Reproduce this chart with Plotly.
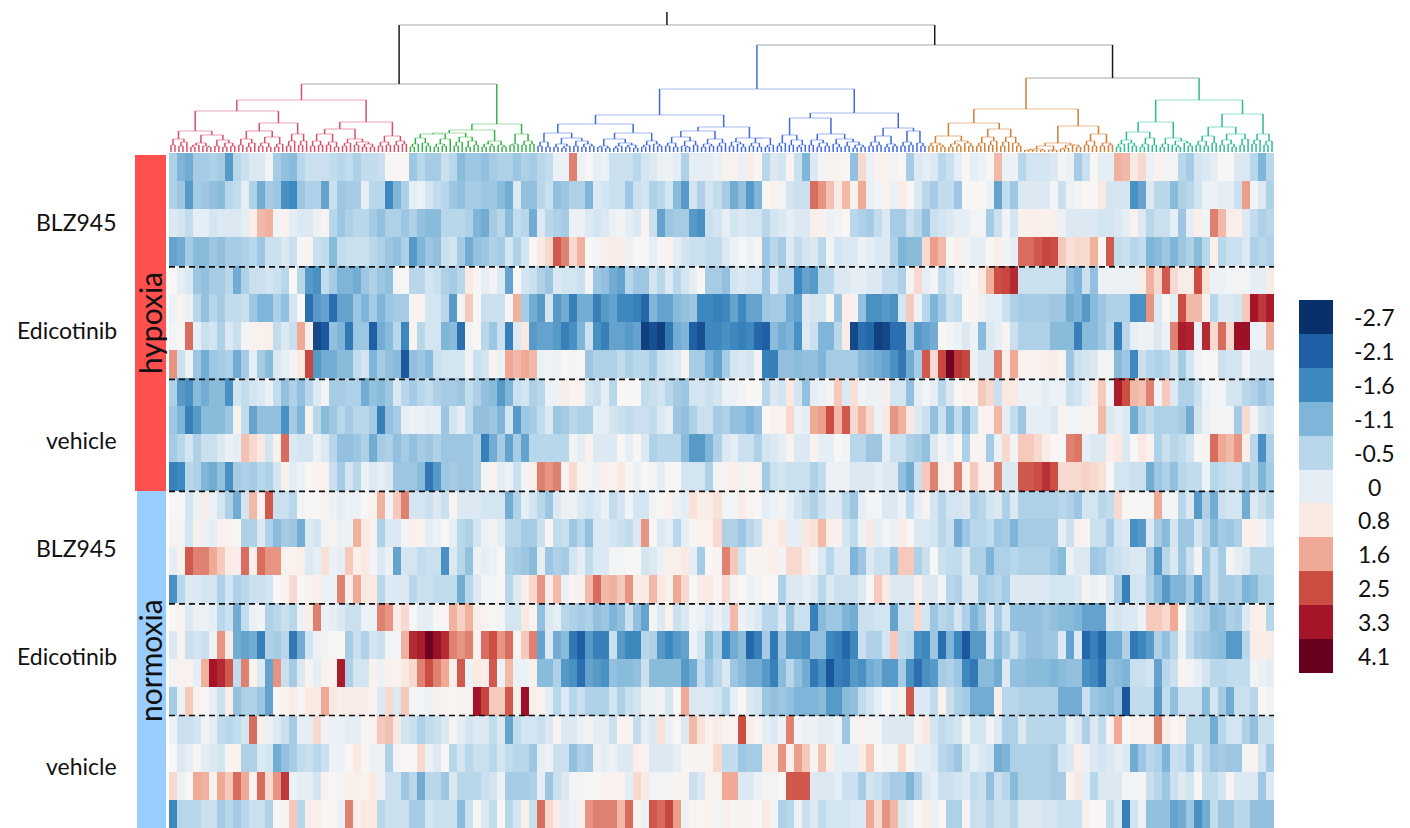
import plotly.graph_objects as go

# Heatmap values in tenths of a z-score, left to right.
R01 = [-6,-11,-12,-7,-7,-6,-7,-14,-5,-3,-1,-1,2,-7,-9,-10,-5,-3,-3,-3,-4,-5,-4,-6,-4,-4,-3,3,3,3,-8,-5,-7,-7,-3,-5,-10,-8,-8,-9,-7,-6,-6,-8,-6,-7,
 -5,-4,1,1,20,1,3,0,1,-3,-3,-3,-5,-2,-1,1,1,0,-6,0,0,0,1,5,5,1,6,3,-5,-1,-2,4,-3,-11,-1,2,5,4,3,-9,10,1,5,5,2,3,
 -7,-1,0,-1,-5,-3,0,3,0,1,3,14,1,1,-5,-2,-2,-2,-1,2,1,-7,-3,3,0,0,15,14,8,10,1,5,2,2,-5,-7,-2,-1,0,3,3,-1,-1,-5,-11,-5]
R02 = [-6,-8,-14,-7,-8,-9,-10,-5,-4,0,-6,-12,-7,-8,-15,-16,-8,-6,-6,-13,-3,-8,-7,-7,0,-5,-5,-16,-11,-6,0,1,-2,-4,-5,-8,-9,-7,-7,-8,-8,-10,-12,-1,-9,-9,
 -5,-3,-9,-8,-6,-6,-11,-1,-2,-3,-3,-8,-3,-2,-6,-5,-2,-10,-14,-2,-6,-2,-4,-7,-12,-9,-14,-11,3,5,2,-2,-3,-3,22,18,13,7,14,5,16,1,2,5,1,7,
 3,-1,-5,-7,-4,-4,-8,3,3,3,1,-13,-4,-8,-1,-1,-1,-1,2,-3,1,2,3,3,8,-2,-2,-2,-15,-13,-1,-5,-5,-10,-6,-5,-2,1,1,0,0,-3,17,2,-1,-6]
R03 = [-1,-2,-4,0,0,-2,-1,-1,-1,0,6,14,15,2,5,0,-1,-1,1,4,-5,-8,-6,-5,-5,-7,-9,-6,-6,-8,-6,-9,-10,-10,-5,-5,-5,-6,-11,-12,-7,-5,-10,-4,-5,-12,
 -1,-5,-6,-7,1,1,-1,-2,-1,1,2,0,-1,4,-3,-13,-8,-7,-7,-14,-15,-3,-2,0,-2,-1,-2,-2,-5,-2,-1,0,-1,-1,6,5,1,2,3,-5,-6,-7,-4,-1,-7,-7,
 -3,-5,-9,-3,-2,-1,0,0,2,2,-7,-3,2,-2,5,6,6,5,6,1,-1,-1,-1,-1,-2,-2,-1,0,5,-1,-5,-3,-3,0,-8,0,6,2,20,14,6,6,-1,-4,-6,-5]
R04 = [-13,-12,-7,-10,-10,-8,-9,-7,-7,-6,-5,-8,-3,-3,-1,-3,3,4,-3,-4,-10,-4,-3,-3,-3,-5,-6,-8,-9,-6,-14,-11,-8,-9,-3,-2,-7,-12,-9,-8,-6,-7,-2,-6,-2,3,
 8,10,24,20,10,15,3,2,6,7,6,1,3,3,0,3,5,0,-2,-3,-3,-4,-4,-1,1,3,1,4,-8,-5,-7,-1,-4,-2,-1,-5,2,-2,-1,-1,1,0,-1,-1,-6,-11,
 -10,-10,10,17,14,3,6,2,0,0,3,6,2,0,22,22,24,26,25,12,9,10,10,15,3,24,-4,-3,-5,-4,-11,-10,-8,-11,-8,-6,-10,-5,6,-5,-3,-3,-1,-6,-5,-6]
R05 = [3,0,-1,-8,-9,-7,-7,-5,-12,-6,-3,-3,-2,-3,-5,3,-5,-14,-15,-4,-7,-11,-11,-12,-8,-6,-8,-9,2,3,-5,-5,-2,-3,-6,-7,-5,8,3,0,2,-1,-13,3,-2,-3,
 -6,-8,-1,-2,-2,-3,2,-8,-9,-12,-13,-5,-8,-8,-2,-5,-1,-5,-2,0,3,-7,-7,-9,-2,-1,-2,-2,-8,-1,-5,-5,-16,-13,-14,-5,-5,-1,-1,0,0,-1,-1,-4,-4,-6,
 2,10,0,2,-4,-2,1,2,3,8,15,25,26,30,-3,-3,-3,-3,-3,-3,-9,-11,-3,-9,1,1,1,1,1,7,15,10,24,10,7,7,25,9,1,1,2,2,2,0,0,7]
R06 = [1,4,1,-5,-9,-5,-7,-4,-4,-3,-8,-11,-11,-6,-9,-2,3,-19,-14,-13,-19,-13,-13,-8,-11,-7,-11,-8,-7,-7,4,4,-2,-2,-5,-14,2,12,3,-3,-3,-3,3,15,-7,-12,
 -14,-2,-14,-12,-17,-12,-12,-17,-14,-13,-16,-16,-17,-20,-11,-13,-13,-10,-9,-8,-16,-16,-17,-16,-13,-16,-13,-13,-8,-7,-7,-12,-13,-1,-2,-2,3,-8,6,5,-9,-15,-15,-14,-15,-2,
 12,1,-5,-11,-7,-3,-4,3,4,1,0,0,-3,-6,-7,-7,-7,-7,-8,-8,-12,-11,-14,-10,-8,-6,-6,-6,-15,-15,18,-1,3,0,25,14,14,5,-5,-1,-1,-2,12,33,28,32]
R07 = [2,3,22,0,-3,-2,-6,-1,-3,2,5,5,6,-4,-1,-3,16,6,-24,-22,-9,-11,-18,-8,-8,-21,-12,-10,-5,-16,4,-5,-2,-2,-11,-10,-19,2,3,-5,-8,-3,-17,-1,8,-14,
 -13,-13,-14,-17,-15,-11,-3,-15,-17,-13,-13,-14,-13,-25,-23,-25,-18,-12,-11,-21,-23,-16,-16,-15,-16,-17,-16,-20,-21,-10,-12,-11,-15,-1,-3,-11,-11,-5,7,-24,-19,-20,-25,-24,-19,-19,
 -6,-14,-13,-12,3,2,1,-1,1,-10,-1,0,4,-3,-6,-6,-6,-6,-10,-10,-10,-17,-10,-10,-8,-5,-17,-5,0,1,1,-1,1,20,32,31,1,30,10,22,10,34,34,1,1,15]
R08 = [18,-3,1,-8,-12,-8,-7,-6,-12,-7,0,-7,-10,-1,0,2,8,26,-14,-12,-12,-10,-10,-4,-2,-11,-7,-9,-10,-22,-9,-8,-10,-3,-2,-2,-2,2,-3,-2,4,1,16,14,16,14,
 1,2,1,3,2,3,-8,-6,-6,-6,-4,-6,-5,-5,-7,-3,-2,-1,4,-7,-7,-11,-13,-7,-2,-1,-2,2,-17,-17,-9,-9,-10,-9,-9,-11,-7,-7,-7,-7,-10,-11,-12,-13,-15,-18,
 -12,-7,24,10,26,40,28,26,1,-1,-1,20,6,16,5,5,5,6,7,4,-8,-3,-2,-1,2,2,-10,-8,-16,-3,-5,-6,-5,-2,-7,-2,2,3,3,-3,-2,-2,2,-1,-1,-1]
R09 = [-6,-14,-15,-10,-12,-10,-10,-15,-2,-4,-2,-1,1,-4,-9,-6,-9,-5,-1,2,-7,-7,-6,-6,-12,-9,-10,-8,-1,-5,-7,-5,-4,-6,-7,-7,-8,-4,-6,-9,-10,-14,-11,-3,-2,-6,
 -5,1,1,7,4,4,-2,-3,0,-5,3,3,3,-4,-3,-2,-5,-7,-8,-2,-2,-3,-2,1,1,2,3,3,-5,-1,-2,8,-2,-9,0,1,2,12,-1,9,2,1,1,6,-2,-2,
 -9,0,2,0,-5,-1,3,5,5,12,10,-3,8,8,1,1,1,0,1,1,-3,-2,0,6,12,2,32,25,14,13,20,2,12,-1,-6,-6,-3,1,2,2,-2,-2,-5,-6,-8,-6]
R10 = [-8,-11,-17,-14,-10,-10,-10,-8,5,-4,-13,-9,-9,-9,-15,-7,-11,5,-5,-10,-8,-5,-7,-5,-5,-7,-17,-9,-7,0,1,1,0,0,-8,-2,0,-4,-9,-9,-8,-11,-2,-14,-8,-7,
 -4,-1,-8,-7,-5,-6,-6,0,0,-2,-3,-4,-3,-3,-4,-1,0,-8,-9,-6,-3,-3,-7,-6,-9,-9,-11,-9,3,5,4,10,1,0,16,17,25,14,24,10,15,10,1,8,18,15,
 8,-1,-3,-9,-3,-10,-4,-10,-4,4,5,14,0,-4,-8,0,0,0,-1,5,2,2,5,4,14,-1,0,-1,-12,-6,-4,-6,-6,-6,-7,-12,-2,1,2,2,2,-7,10,2,-2,-3]
R11 = [-7,-5,-2,-6,-3,-3,-1,1,0,13,10,8,-2,5,22,-1,-2,-2,1,-1,-5,-9,-9,-8,-6,-12,-7,-6,-9,-7,-9,-7,-8,-6,-8,-8,-8,-8,-6,-17,-12,-7,-13,-7,-13,-5,
 -5,-5,-5,-5,2,0,5,-1,-1,-1,3,0,3,-1,-6,-5,-5,-5,-10,-14,-14,-11,-6,-1,0,-3,-3,-6,-2,-1,0,4,-1,-1,5,0,0,3,2,-5,-5,-8,-8,0,-3,-3,
 -6,-7,-9,-1,2,0,3,-6,4,4,-7,1,10,2,12,12,10,7,3,3,20,21,0,-1,-1,6,8,-1,3,8,5,-6,-3,-5,-4,-2,3,4,22,16,14,18,6,-5,-15,-6]
R12 = [-17,-16,-5,-6,-11,-12,-9,-15,-7,-6,-7,-5,-6,-2,5,0,1,3,4,5,-3,-7,-2,-5,1,-1,0,-1,-8,-8,-8,-10,-18,-14,-8,-7,-8,-8,-6,2,5,0,1,-3,2,6,
 20,18,20,5,10,4,2,1,6,5,8,3,1,3,2,0,3,3,-2,-2,-2,-6,2,5,6,2,5,5,-7,-3,-2,-3,-3,-3,-6,-4,1,1,1,-1,-1,-1,0,-1,-1,-9,
 -12,-3,12,20,5,5,20,5,12,6,5,20,-1,-1,24,24,25,29,25,10,10,10,11,10,9,3,-2,-2,-3,-3,-12,-8,-6,-9,-5,-4,-4,1,-5,-4,-3,-3,-7,-5,-11,-7]
R13 = [3,3,-2,1,7,1,-2,-6,-12,-2,14,5,24,-3,-3,-5,2,3,3,4,1,0,1,1,3,5,15,2,12,20,-2,-2,-3,-1,-3,4,-1,-1,-1,-2,-2,-2,-12,-6,0,-2,
 -5,-8,-1,1,1,-1,-2,-1,1,-4,-2,2,-2,-2,2,3,5,1,0,9,6,7,9,2,2,7,4,3,0,1,2,0,-2,-4,-6,-3,-1,-1,-5,-8,0,2,2,-1,-1,1,
 -4,0,4,-2,-5,-2,-2,-1,-6,-5,-2,-1,-6,-1,-6,-6,-6,-6,-6,-5,-6,-8,-2,-2,-5,-4,10,3,3,3,3,16,2,2,-5,-1,-14,-6,-12,-3,-2,-2,-12,-1,-3,-5]
R14 = [4,2,-2,5,1,0,5,5,3,-6,-6,-1,-6,-10,-7,-8,-12,-1,-2,2,4,1,1,15,8,5,-6,-1,-1,2,6,5,0,1,3,0,-5,-6,-2,1,2,0,-5,-5,-7,-7,
 -3,3,-4,-3,-8,-5,-9,-1,-1,-2,-3,-4,-1,18,3,-1,0,-5,0,3,5,5,10,-6,-6,-8,-5,-3,5,5,8,0,0,8,9,14,6,5,-2,-4,1,8,0,2,1,7,
 3,-1,-1,-2,-5,-3,-12,-8,-5,-5,-4,-8,-7,-11,-7,-7,-7,-7,-7,0,-3,5,4,-3,-3,-7,-2,-1,-15,-14,-1,-7,-10,-2,-8,-8,-2,-5,-10,-7,-8,-6,5,6,2,-1]
R15 = [0,5,24,20,20,16,12,7,6,22,6,22,18,18,5,5,6,-1,0,9,1,0,12,6,8,2,-1,1,-13,-2,-2,-4,-3,-3,-15,-1,-5,-9,1,0,1,3,-6,-7,-8,-10,
 0,-8,-6,-7,-2,0,-4,-1,-1,2,2,3,3,-2,-1,1,6,6,8,0,-7,3,4,20,12,-2,4,4,5,6,2,10,10,7,2,-1,-5,-1,-1,-11,-8,-1,-3,-3,-8,12,
 12,-6,-3,3,-3,-4,-4,-1,-6,-6,-11,-6,-6,-5,-6,-6,-6,-6,-8,-10,1,-1,-1,-8,-7,-4,-3,-2,-1,-1,-7,-14,-5,-1,-8,-3,2,-8,-3,-7,2,0,-1,-5,-5,-5]
R16 = [-15,-5,-1,-1,-2,-2,-6,-2,-6,-5,-3,-3,-2,3,4,10,3,5,6,1,1,20,6,16,8,8,-5,-1,-1,-1,-5,-3,-3,-4,-4,-4,-12,-5,-1,2,2,3,-5,-1,6,10,
 18,7,14,1,4,5,14,22,14,15,12,18,7,8,14,8,5,16,10,3,7,8,4,10,2,3,1,2,3,3,-6,-1,-1,0,-1,-5,-1,-3,-3,-3,-1,3,12,8,-1,-1,
 -1,6,-1,-1,2,-5,-6,-1,-1,-7,-6,-5,-7,-1,-1,-1,-1,-1,-2,-2,-2,-1,5,1,2,-1,-7,-17,-2,-2,-6,-10,-14,-11,-11,-7,-13,-8,-3,-7,-7,-6,-11,-10,-6,-6]
R17 = [3,5,-1,1,1,0,-5,-3,-12,-4,1,2,-6,-5,-3,-5,1,6,20,1,0,-1,-3,-3,1,1,20,18,7,10,3,0,0,3,3,15,11,15,6,5,3,2,-2,-2,8,4,
 -9,-1,0,-5,-6,-7,-6,-9,-8,-11,-9,-3,-9,-13,2,-1,5,-3,-1,2,1,-1,1,-1,14,1,0,-1,-5,-5,-1,-8,-3,-3,-17,-10,-8,-8,-11,-12,-3,-3,-2,-2,-13,-3,
 -3,10,-2,-8,-5,-6,-2,-6,-11,-8,-1,-7,-2,-9,-9,-9,-9,-8,-9,-10,-10,-11,-13,-13,-13,-1,-2,-1,-1,1,12,12,10,16,3,-3,-5,-6,-10,-9,-6,-7,-1,6,5,-5]
R18 = [-1,5,-3,-2,-3,1,18,7,-12,-13,-12,-17,-6,-7,-5,-18,-12,-2,1,2,3,3,-7,-3,-6,-2,-3,2,2,15,30,32,40,34,30,20,18,20,5,22,25,18,22,5,12,20,
 -13,-1,-12,-10,-18,-21,-14,-17,-17,-3,-14,-16,-16,-5,-6,-14,-16,-14,-13,1,-2,-10,-6,-16,-12,-10,-20,-17,-7,-18,-8,-14,-14,-15,-9,-9,-16,-17,-20,-16,-3,-6,-6,-2,12,-4,
 -5,-15,-16,-8,-19,-11,-16,-22,-14,-14,-2,-10,-7,-3,-7,-9,-9,-8,-8,-1,-13,-1,-20,-17,-20,-12,-12,-6,-18,-16,-14,-6,-9,-5,1,-4,-7,-8,-9,-10,-14,-14,-5,7,7,7]
R19 = [2,5,5,0,15,33,30,24,-4,20,5,-1,-13,18,-3,-7,-1,4,0,5,4,32,-6,-2,-2,5,1,5,5,8,10,20,25,20,16,6,24,1,8,6,24,1,14,1,1,5,
 -10,-10,-6,-14,-15,-19,-13,-14,-15,-9,-10,-10,-9,-3,-10,-10,-10,-10,-14,-12,-4,-8,-5,-1,-8,-10,-12,-12,-14,-17,-10,-5,-9,-12,-18,-15,-22,-17,-18,-14,-15,-12,-11,-14,-14,-7,
 -15,-19,-15,-14,-7,-6,-8,-16,-18,-10,-10,-12,-1,-9,-9,-10,-10,-10,-11,-10,-9,-9,-15,-16,-19,-9,-10,-11,-3,-3,-2,-13,-5,-3,4,2,0,-2,-5,-5,-4,-4,-4,2,1,0]
R20 = [-7,1,12,5,3,0,-3,6,-9,-6,-6,-8,-13,3,5,7,3,8,7,16,8,6,7,7,6,4,-1,10,-1,12,2,2,1,5,4,3,4,4,33,26,12,12,24,6,34,6,
 5,0,-5,-1,-5,-3,-6,-6,-6,-2,-6,-3,-2,1,1,2,-2,3,16,-1,-1,-1,-2,-5,0,3,-1,-2,-8,-9,-8,-9,-11,-11,-11,-10,-14,-14,-10,-9,-4,-2,0,3,1,5,
 24,-1,-1,-4,5,-3,-6,-7,-12,-12,-12,6,-5,-5,-6,-6,-6,-6,-6,-12,-12,-12,-3,-8,-9,-10,-8,-22,-4,-4,-4,-14,-4,-9,-3,-3,-3,-10,-2,-7,-12,-3,-3,-5,3,2]
R21 = [1,-3,-3,-2,2,0,-4,-5,-4,-2,22,6,1,-1,-3,-7,0,0,10,2,1,1,0,0,3,5,12,13,8,-2,-3,-6,-4,-3,-1,2,0,-2,-1,-1,-4,-1,-13,-4,-2,-2,
 -3,-1,4,-1,-1,1,2,0,0,-3,4,4,-4,0,-1,9,1,3,-1,14,9,5,7,5,5,25,6,4,0,-1,1,20,2,1,1,0,0,1,-8,2,5,2,2,-1,-1,-1,
 -1,4,8,-2,-4,-3,-2,2,-2,-2,2,-1,-6,-6,-1,-5,-5,-5,-5,-5,0,-1,-6,-1,-4,4,16,3,5,5,5,20,7,3,5,-5,-5,-5,-12,-5,-2,-2,-6,-9,-3,-3]
R22 = [3,-1,0,4,0,-1,-2,4,5,-6,-6,-1,-2,-12,-9,-7,-4,-3,-5,-3,1,1,3,8,3,1,1,-6,2,3,3,10,1,-1,3,-5,-2,-5,-3,-3,-5,-2,-4,-5,-5,-8,
 0,1,-3,-3,-9,-6,-7,1,0,1,-1,-1,6,5,-1,-1,-1,0,3,4,4,4,10,-4,-4,-8,-7,-7,8,7,18,6,17,12,4,13,6,0,0,0,7,12,3,2,2,10,
 4,0,0,-1,-5,-6,-8,-2,0,-1,-2,-12,-11,-6,-6,-6,-6,-6,-7,-2,-1,6,1,-1,-2,-1,0,-1,-12,-8,-5,-6,-11,-3,-4,-8,-1,-5,-8,-7,-8,-8,2,4,-2,-7]
R23 = [10,1,3,16,15,5,16,12,22,16,5,22,10,18,28,1,0,0,-2,5,3,2,6,6,5,8,1,-3,-3,-8,-5,-12,-5,-5,-8,-1,-5,-5,-5,-3,-2,1,-7,-7,-7,-6,
 0,-8,-3,-1,2,2,3,3,5,5,5,0,10,8,2,2,2,4,4,-3,-1,5,5,16,16,-1,-1,1,2,2,3,24,24,24,-1,-1,-1,0,-3,-3,-7,-2,-3,-5,-7,-7,
 -11,-6,-1,0,-3,-3,-2,-1,-4,-3,-9,-3,-5,-10,-6,-6,-6,-6,-7,-7,4,8,0,-5,-1,-1,-1,2,2,2,-3,-5,-8,-3,-1,-2,3,-4,-4,-2,4,-1,-1,-1,-8,-1]
R24 = [-16,-5,-5,-5,-3,-3,-7,-5,-7,-5,-3,-3,-6,3,4,12,-5,6,6,3,3,1,20,6,8,8,-5,-3,-3,-3,-7,-7,-2,-3,-3,-3,-10,-3,3,-1,-4,3,-5,-2,6,-3,
 22,10,7,0,1,5,18,20,20,20,14,22,4,1,24,22,26,17,1,4,3,5,2,6,3,4,4,3,8,2,-6,-5,1,-3,-1,-4,-2,-2,-2,-1,-1,16,10,18,14,-1,
 0,3,6,1,3,-6,-6,2,-3,-3,-5,-3,-3,-5,-1,-1,-1,-2,-2,-3,-3,-3,5,3,3,-4,-1,-17,-2,1,-9,-9,-9,-13,-12,-8,-15,-12,-4,-8,-8,-5,-5,-9,-9,-9]

HEAT_ROWS = [R01,R02,R03,R04,R05,R06,R07,R08,R09,R10,R11,R12,R13,R14,R15,R16,R17,R18,R19,R20,R21,R22,R23,R24]

LEGEND_LABELS = ["-2.7","-2.1","-1.6","-1.1","-0.5","0","0.8","1.6","2.5","3.3","4.1"]
LEGEND_VALUES = [-2.7,-2.1,-1.6,-1.1,-0.5,0,0.8,1.6,2.5,3.3,4.1]
LEGEND_COLORS = ["#08306B","#1F5FA6","#3D88BE","#7FB5D8","#B8D7EA","#E5EEF4","#FAE9E2","#EFA994","#CC4E43","#A51429","#67001F"]
NEUTRAL_VALUE = 0.3
NEUTRAL_COLOR = "#F7F6F5"
GROUP_LABELS = ["BLZ945","Edicotinib","vehicle","BLZ945","Edicotinib","vehicle"]
GROUP_ROWS = [2.45,6.3,10.2,14.05,17.9,21.8]
SEPARATORS = [4.05,8.05,12.03,16.03,20.0]

# Dendrogram: (merge height, left, right); 0 is a leaf.
A1=(13,(7,0,0),(10,(6,0,0),0))
A2=(17,(9,(7,(5,0,0),0),(6,0,(5,0,0))),(12,(6,0,0),(9,(5,0,0),(6,0,0))))
B1=(21,(13,(7,0,0),(9,(5,0,0),0)),(15,(9,(6,0,0),(5,0,0)),(8,(5,0,0),0)))
B2=(18,(11,(6,0,0),0),(11,(7,0,0),0))
C1a=(18,(11,(6,0,0),(7,0,0)),(10,(7,0,0),(5,0,0)))
C1b=(13,(9,(6,0,0),0),(10,(7,0,0),(8,(5,0,0),(5,0,0))))
C2=(16,(10,(6,0,0),(7,0,0)),(11,(7,0,0),(8,0,0)))
RED=(52,(41,(21,A1,A2),(29,B1,B2)),(30,(23,C1a,C1b),C2))
G_L=(18,(14,(8,(5,0,0),0),(9,0,(6,0,0))),(13,(8,(5,0,0),(6,0,0)),0))
G_M=(15,(10,(6,0,0),0),(11,(5,0,0),(7,0,0)))
G_N=(11,(8,(5,0,0),(6,0,0)),(7,0,(5,0,0)))
G_O=(18,(8,(7,0,0),0),(11,(7,0,0),(8,0,0)))
GREEN=(28,(22,(19,G_L,G_M),G_N),G_O)
b1a=(10,(6,0,0),(5,0,0))
b1b=(14,(8,(5,0,0),(6,(4,0,0),0)),(11,(6,0,0),(8,(5,0,0),(6,0,0))))
b2a=(13,(6,(5,0,0),(4,0,0)),(9,(6,(4,0,0),0),(7,(5,0,0),(4,0,0))))
b2b=(11,(7,(5,0,0),0),(8,0,(6,0,0)))
b3a=(15,(9,(6,0,0),(5,0,0)),(11,(6,0,(5,0,0)),(7,0,0)))
b3b=(13,(8,(5,0,0),(6,0,0)),(9,(6,0,0),0))
b4a=(10,(6,0,0),(8,0,(5,0,0)))
b4b=(14,(9,(6,0,0),(5,0,0)),(7,(5,0,0),0))
b5a=(17,(9,(6,0,0),0),(12,(7,0,0),(7,(5,0,0),0)))
b5b=(18,(12,(7,0,0),(9,(5,0,0),(6,0,0))),(13,(8,0,(5,0,0)),(10,(6,0,0),(7,(4,0,0),(5,0,0)))))
b6a=(16,(10,(6,0,0),(7,0,0)),(8,(5,0,0),(6,0,0)))
b6b=(21,(10,(6,0,0),(7,0,0)),(9,0,(6,0,0)))
BLUE=(63,(37,(28,(19,b1a,b1b),(19,b2a,b2b)),(25,(21,b3a,b3b),(14,b4a,b4b))),(39,(34,b5a,b5b),(24,b6a,b6b)))
o1=(16,(9,(6,0,0),(7,0,(5,0,0))),(11,(8,(5,0,0),(6,0,0)),(9,0,(6,0,0))))
o2=(23,(15,(9,(6,0,0),0),(11,(7,0,0),0)),(15,(10,(6,0,0),0),(9,0,(6,0,0))))
o3a=(6,(3,(2,(2,0,0),(2,0,0)),(2,0,0)),(2,(2,0,0),0))
o3=(9,o3a,(7,(4,(3,0,0),0),(7,0,(5,0,0))))
o4=(18,(11,(7,0,0),(6,0,0)),(9,(6,0,0),(7,0,0)))
ORANGE=(43,(29,o1,o2),(26,o3,o4))
t1=(20,(12,(8,(5,0,0),0),(9,0,(6,0,0))),(14,(8,(5,0,0),0),(7,0,0)))
t2=(14,(8,(5,0,0),0),(11,(7,0,(5,0,0)),(9,0,(6,0,0))))
t3=(16,(11,(7,0,0),(6,0,0)),(9,0,0))
t4=(18,(12,(7,0,0),(8,0,(5,0,0))),(13,(7,0,0),0))
t5=(18,(12,(8,0,0),0),(11,(7,0,0),0))
TEAL=(52,(30,t1,t2),(38,(25,t3,t4),t5))
CLUSTER_COLORS = {"red":"#D5506A","green":"#3BB14A","blue":"#4169E1","orange":"#CE7F36","teal":"#2EBB90"}
CLUSTER_PALE = {"red":"#EDA3B0","green":"#A3DCA9","blue":"#A5BAF1","orange":"#E9BE97","teal":"#96E0CA"}
ROOT_HEIGHT = 127
ROOT_STEM = 140
LEFT_HEIGHT = 68
RIGHT_HEIGHT = 107
RIGHT2_HEIGHT = 74

segs_v = {k: ([],[]) for k in list(CLUSTER_COLORS)+["top"]}
segs_h = {k: ([],[]) for k in list(CLUSTER_COLORS)+["top"]}
leaf_counter = [0]

def add(store, x0, y0, x1, y1):
    store[0].extend([x0, x1, None])
    store[1].extend([y0, y1, None])

def walk(node, key):
    if node == 0:
        x = leaf_counter[0] + 0.5
        leaf_counter[0] += 1
        return x, 0
    h, l, r = node
    xl, hl = walk(l, key)
    xr, hr = walk(r, key)
    add(segs_v[key], xl, hl, xl, h)
    add(segs_v[key], xr, hr, xr, h)
    add(segs_h[key], xl, h, xr, h)
    return (xl + xr) / 2, h

red = walk(RED, "red"); green = walk(GREEN, "green"); blue = walk(BLUE, "blue")
orange = walk(ORANGE, "orange"); teal = walk(TEAL, "teal")
n_leaves = leaf_counter[0]
# Cluster stems keep the cluster colour up to the first joining bar.
for pos, key, up in [(red,"red",LEFT_HEIGHT),(green,"green",LEFT_HEIGHT),(blue,"blue",RIGHT_HEIGHT),(orange,"orange",RIGHT2_HEIGHT),(teal,"teal",RIGHT2_HEIGHT)]:
    add(segs_v[key], pos[0], pos[1], pos[0], up)
lx = (red[0]+green[0])/2
r2x = (orange[0]+teal[0])/2
rx = (blue[0]+r2x)/2
add(segs_h["top"], red[0], LEFT_HEIGHT, green[0], LEFT_HEIGHT)
add(segs_h["top"], orange[0], RIGHT2_HEIGHT, teal[0], RIGHT2_HEIGHT)
add(segs_h["top"], blue[0], RIGHT_HEIGHT, r2x, RIGHT_HEIGHT)
add(segs_v["top"], r2x, RIGHT2_HEIGHT, r2x, RIGHT_HEIGHT)
add(segs_v["top"], lx, LEFT_HEIGHT, lx, ROOT_HEIGHT)
add(segs_v["top"], rx, RIGHT_HEIGHT, rx, ROOT_HEIGHT)
add(segs_h["top"], lx, ROOT_HEIGHT, rx, ROOT_HEIGHT)
add(segs_v["top"], (lx+rx)/2, ROOT_HEIGHT, (lx+rx)/2, ROOT_STEM)

W, H = 1410, 828
px = lambda v: v / W
py = lambda v: 1 - v / H
n_cols = len(R01)
zmin, zmax = LEGEND_VALUES[0], LEGEND_VALUES[-1]
stops = sorted(list(zip(LEGEND_VALUES, LEGEND_COLORS)) + [(NEUTRAL_VALUE, NEUTRAL_COLOR)])
cscale = [[(v - zmin) / (zmax - zmin), c] for v, c in stops]

fig = go.Figure()
fig.add_trace(go.Heatmap(z=[[v / 10 for v in r] for r in HEAT_ROWS],
                         x=[i + 0.5 for i in range(n_cols)], y=[i + 0.5 for i in range(24)],
                         colorscale=cscale, zmin=zmin, zmax=zmax, showscale=False,
                         hoverinfo="skip", xaxis="x", yaxis="y"))
for key, col in CLUSTER_COLORS.items():
    fig.add_trace(go.Scatter(x=segs_h[key][0], y=segs_h[key][1], mode="lines", xaxis="x2", yaxis="y2",
                             line=dict(color=CLUSTER_PALE[key], width=1.1), hoverinfo="skip", showlegend=False))
    fig.add_trace(go.Scatter(x=segs_v[key][0], y=segs_v[key][1], mode="lines", xaxis="x2", yaxis="y2",
                             line=dict(color=col, width=1.5), hoverinfo="skip", showlegend=False))
fig.add_trace(go.Scatter(x=segs_h["top"][0], y=segs_h["top"][1], mode="lines", xaxis="x2", yaxis="y2",
                         line=dict(color="#A8A8A8", width=1.1), hoverinfo="skip", showlegend=False))
fig.add_trace(go.Scatter(x=segs_v["top"][0], y=segs_v["top"][1], mode="lines", xaxis="x2", yaxis="y2",
                         line=dict(color="#1A1A1A", width=1.5), hoverinfo="skip", showlegend=False))
fig.add_trace(go.Heatmap(z=[[v] for v in LEGEND_VALUES], x=[0], y=list(range(len(LEGEND_VALUES))),
                         colorscale=cscale, zmin=zmin, zmax=zmax, showscale=False, hoverinfo="skip",
                         xaxis="x3", yaxis="y3"))

shapes = [
    dict(type="rect", xref="paper", yref="paper", x0=px(135), x1=px(166), y0=py(155), y1=py(491),
         fillcolor="#FF5050", line_width=0, layer="below"),
    dict(type="rect", xref="paper", yref="paper", x0=px(137), x1=px(166), y0=py(491), y1=py(828),
         fillcolor="#99CCFF", line_width=0, layer="below"),
]
for s in SEPARATORS:
    shapes.append(dict(type="line", xref="x", yref="y", x0=0, x1=n_cols, y0=s, y1=s,
                       line=dict(color="#111111", width=1.6, dash="6px,4px")))

FONT = "Lato, Carlito, Calibri, sans-serif"
ann = []
for lab, row in zip(GROUP_LABELS, GROUP_ROWS):
    ann.append(dict(text=lab, xref="paper", yref="y", x=px(119), y=row, xanchor="right", yanchor="middle",
                    showarrow=False, font=dict(family=FONT, size=23, color="#111111")))
for lab, val in zip(LEGEND_LABELS, range(len(LEGEND_LABELS))):
    ann.append(dict(text=lab, xref="paper", yref="y3", x=px(1374), y=val, xanchor="center", yanchor="middle",
                    showarrow=False, font=dict(family=FONT, size=23, color="#111111")))
for lab, cy in [("hypoxia", 323), ("normoxia", 661)]:
    ann.append(dict(text=lab, xref="paper", yref="paper", x=px(150), y=py(cy), textangle=-90,
                    xanchor="center", yanchor="middle", showarrow=False,
                    font=dict(family=FONT, size=30, color="#111111")))

hidden = dict(visible=False, showgrid=False, zeroline=False, fixedrange=True)
fig.update_layout(
    width=W, height=H, margin=dict(l=0, r=0, t=0, b=0), autosize=False,
    paper_bgcolor="white", plot_bgcolor="white", showlegend=False,
    xaxis=dict(domain=[px(169), px(1274)], range=[0, n_cols], **hidden),
    yaxis=dict(domain=[py(828), py(153)], range=[24, 0], **hidden),
    xaxis2=dict(domain=[px(169), px(1274)], range=[0, n_leaves], anchor="y2", **hidden),
    yaxis2=dict(domain=[py(152), py(12)], range=[0, ROOT_STEM], anchor="x2", **hidden),
    xaxis3=dict(domain=[px(1299), px(1333)], range=[-0.5, 0.5], anchor="y3", **hidden),
    yaxis3=dict(domain=[py(673), py(300)], range=[10.5, -0.5], anchor="x3", **hidden),
    shapes=shapes, annotations=ann,
)
fig.write_html("out.html", config={"displayModeBar": False},
               post_script="document.body.style.margin='0';document.body.style.overflow='hidden';")
